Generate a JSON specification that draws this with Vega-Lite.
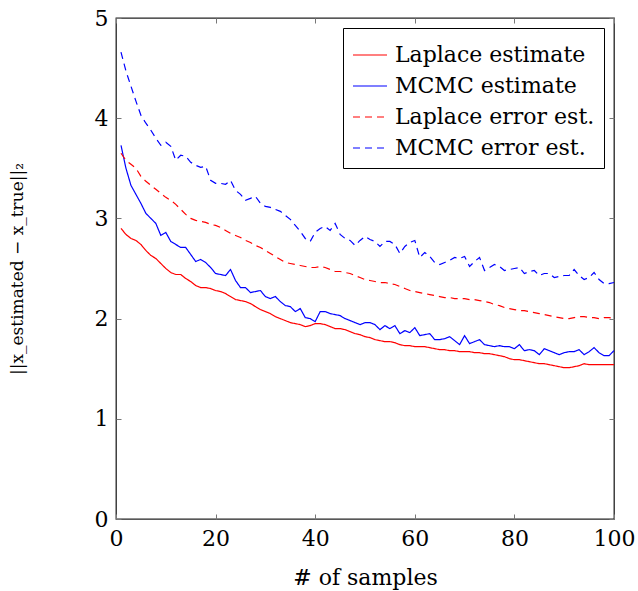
{
  "$schema": "https://vega.github.io/schema/vega-lite/v6.json",
  "autosize": "none",
  "padding": {"left": 116, "top": 18, "right": 24, "bottom": 72},
  "width": 498,
  "height": 501,
  "background": "white",
  "config": {
    "view": {"stroke": "#222", "strokeWidth": 1.3},
    "font": "DejaVu Serif",
    "axis": {"grid": false, "domain": false, "tickColor": "#777", "tickWidth": 1, "tickSize": -5, "labelFlush": false, "labelColor": "black", "labelFont": "DejaVu Serif", "labelFontSize": 22, "titleFont": "DejaVu Serif", "titleFontWeight": "normal", "titleColor": "black"},
    "legend": {"orient": "top-right", "offset": 10, "strokeColor": "black", "fillColor": "white", "padding": 9, "cornerRadius": 0, "symbolType": "stroke", "symbolSize": 1156, "symbolStrokeWidth": 1.2, "labelFont": "DejaVu Serif", "labelFontSize": 22, "labelLimit": 0, "labelColor": "black", "labelOffset": 7, "rowPadding": 2, "title": null}
  },
  "data": {"values": [
    {"n":1,"L":2.90,"M":3.73,"LE":3.65,"ME":4.66},
    {"n":2,"L":2.84,"M":3.50,"LE":3.58,"ME":4.47},
    {"n":3,"L":2.80,"M":3.33,"LE":3.54,"ME":4.32},
    {"n":4,"L":2.78,"M":3.24,"LE":3.50,"ME":4.17},
    {"n":5,"L":2.74,"M":3.15,"LE":3.42,"ME":4.03},
    {"n":6,"L":2.68,"M":3.05,"LE":3.37,"ME":3.95},
    {"n":7,"L":2.63,"M":3.00,"LE":3.33,"ME":3.88},
    {"n":8,"L":2.60,"M":2.95,"LE":3.29,"ME":3.80},
    {"n":9,"L":2.55,"M":2.83,"LE":3.25,"ME":3.73},
    {"n":10,"L":2.50,"M":2.86,"LE":3.21,"ME":3.76},
    {"n":11,"L":2.46,"M":2.77,"LE":3.18,"ME":3.72},
    {"n":12,"L":2.44,"M":2.74,"LE":3.14,"ME":3.58},
    {"n":13,"L":2.44,"M":2.71,"LE":3.09,"ME":3.63},
    {"n":14,"L":2.40,"M":2.71,"LE":3.04,"ME":3.62},
    {"n":15,"L":2.37,"M":2.64,"LE":3.00,"ME":3.56},
    {"n":16,"L":2.33,"M":2.57,"LE":2.98,"ME":3.53},
    {"n":17,"L":2.31,"M":2.59,"LE":2.97,"ME":3.51},
    {"n":18,"L":2.31,"M":2.56,"LE":2.96,"ME":3.52},
    {"n":19,"L":2.30,"M":2.51,"LE":2.94,"ME":3.38},
    {"n":20,"L":2.28,"M":2.45,"LE":2.93,"ME":3.35},
    {"n":21,"L":2.27,"M":2.44,"LE":2.91,"ME":3.35},
    {"n":22,"L":2.25,"M":2.43,"LE":2.88,"ME":3.34},
    {"n":23,"L":2.22,"M":2.49,"LE":2.85,"ME":3.38},
    {"n":24,"L":2.19,"M":2.38,"LE":2.83,"ME":3.28},
    {"n":25,"L":2.18,"M":2.31,"LE":2.81,"ME":3.24},
    {"n":26,"L":2.17,"M":2.31,"LE":2.78,"ME":3.18},
    {"n":27,"L":2.15,"M":2.26,"LE":2.76,"ME":3.20},
    {"n":28,"L":2.12,"M":2.27,"LE":2.73,"ME":3.22},
    {"n":29,"L":2.09,"M":2.28,"LE":2.71,"ME":3.15},
    {"n":30,"L":2.07,"M":2.22,"LE":2.68,"ME":3.12},
    {"n":31,"L":2.05,"M":2.20,"LE":2.65,"ME":3.11},
    {"n":32,"L":2.02,"M":2.22,"LE":2.62,"ME":3.09},
    {"n":33,"L":2.00,"M":2.17,"LE":2.59,"ME":3.07},
    {"n":34,"L":1.98,"M":2.13,"LE":2.56,"ME":3.03},
    {"n":35,"L":1.96,"M":2.12,"LE":2.55,"ME":2.99},
    {"n":36,"L":1.95,"M":2.07,"LE":2.54,"ME":2.93},
    {"n":37,"L":1.94,"M":2.10,"LE":2.53,"ME":2.87},
    {"n":38,"L":1.92,"M":2.01,"LE":2.52,"ME":2.80},
    {"n":39,"L":1.93,"M":2.00,"LE":2.51,"ME":2.77},
    {"n":40,"L":1.95,"M":1.97,"LE":2.51,"ME":2.86},
    {"n":41,"L":1.95,"M":2.07,"LE":2.52,"ME":2.90},
    {"n":42,"L":1.94,"M":2.07,"LE":2.51,"ME":2.92},
    {"n":43,"L":1.92,"M":2.05,"LE":2.49,"ME":2.88},
    {"n":44,"L":1.90,"M":2.04,"LE":2.47,"ME":2.95},
    {"n":45,"L":1.90,"M":2.03,"LE":2.47,"ME":2.84},
    {"n":46,"L":1.89,"M":2.00,"LE":2.46,"ME":2.80},
    {"n":47,"L":1.87,"M":1.98,"LE":2.45,"ME":2.78},
    {"n":48,"L":1.85,"M":1.96,"LE":2.43,"ME":2.73},
    {"n":49,"L":1.84,"M":1.94,"LE":2.41,"ME":2.78},
    {"n":50,"L":1.82,"M":1.96,"LE":2.39,"ME":2.82},
    {"n":51,"L":1.81,"M":1.96,"LE":2.38,"ME":2.79},
    {"n":52,"L":1.79,"M":1.94,"LE":2.37,"ME":2.77},
    {"n":53,"L":1.78,"M":1.89,"LE":2.36,"ME":2.72},
    {"n":54,"L":1.77,"M":1.93,"LE":2.36,"ME":2.77},
    {"n":55,"L":1.77,"M":1.90,"LE":2.35,"ME":2.77},
    {"n":56,"L":1.76,"M":1.93,"LE":2.34,"ME":2.74},
    {"n":57,"L":1.74,"M":1.85,"LE":2.32,"ME":2.65},
    {"n":58,"L":1.73,"M":1.88,"LE":2.30,"ME":2.72},
    {"n":59,"L":1.73,"M":1.86,"LE":2.28,"ME":2.76},
    {"n":60,"L":1.72,"M":1.91,"LE":2.27,"ME":2.78},
    {"n":61,"L":1.72,"M":1.83,"LE":2.26,"ME":2.61},
    {"n":62,"L":1.72,"M":1.84,"LE":2.25,"ME":2.66},
    {"n":63,"L":1.71,"M":1.85,"LE":2.24,"ME":2.62},
    {"n":64,"L":1.70,"M":1.79,"LE":2.23,"ME":2.56},
    {"n":65,"L":1.69,"M":1.79,"LE":2.22,"ME":2.54},
    {"n":66,"L":1.69,"M":1.80,"LE":2.21,"ME":2.56},
    {"n":67,"L":1.68,"M":1.82,"LE":2.21,"ME":2.58},
    {"n":68,"L":1.68,"M":1.78,"LE":2.20,"ME":2.61},
    {"n":69,"L":1.67,"M":1.74,"LE":2.20,"ME":2.60},
    {"n":70,"L":1.67,"M":1.83,"LE":2.20,"ME":2.62},
    {"n":71,"L":1.67,"M":1.75,"LE":2.19,"ME":2.52},
    {"n":72,"L":1.66,"M":1.77,"LE":2.19,"ME":2.57},
    {"n":73,"L":1.66,"M":1.79,"LE":2.18,"ME":2.61},
    {"n":74,"L":1.65,"M":1.74,"LE":2.17,"ME":2.48},
    {"n":75,"L":1.65,"M":1.73,"LE":2.16,"ME":2.51},
    {"n":76,"L":1.64,"M":1.72,"LE":2.14,"ME":2.54},
    {"n":77,"L":1.63,"M":1.73,"LE":2.13,"ME":2.52},
    {"n":78,"L":1.62,"M":1.72,"LE":2.11,"ME":2.48},
    {"n":79,"L":1.60,"M":1.72,"LE":2.10,"ME":2.49},
    {"n":80,"L":1.59,"M":1.70,"LE":2.09,"ME":2.50},
    {"n":81,"L":1.59,"M":1.74,"LE":2.08,"ME":2.51},
    {"n":82,"L":1.58,"M":1.68,"LE":2.08,"ME":2.45},
    {"n":83,"L":1.57,"M":1.69,"LE":2.07,"ME":2.47},
    {"n":84,"L":1.56,"M":1.68,"LE":2.06,"ME":2.48},
    {"n":85,"L":1.55,"M":1.64,"LE":2.05,"ME":2.43},
    {"n":86,"L":1.55,"M":1.70,"LE":2.04,"ME":2.45},
    {"n":87,"L":1.54,"M":1.68,"LE":2.03,"ME":2.45},
    {"n":88,"L":1.53,"M":1.66,"LE":2.02,"ME":2.41},
    {"n":89,"L":1.52,"M":1.64,"LE":2.01,"ME":2.42},
    {"n":90,"L":1.51,"M":1.66,"LE":2.00,"ME":2.43},
    {"n":91,"L":1.51,"M":1.67,"LE":2.00,"ME":2.43},
    {"n":92,"L":1.52,"M":1.67,"LE":2.01,"ME":2.49},
    {"n":93,"L":1.53,"M":1.69,"LE":2.02,"ME":2.43},
    {"n":94,"L":1.55,"M":1.64,"LE":2.02,"ME":2.39},
    {"n":95,"L":1.54,"M":1.67,"LE":2.01,"ME":2.41},
    {"n":96,"L":1.54,"M":1.71,"LE":2.01,"ME":2.46},
    {"n":97,"L":1.54,"M":1.66,"LE":2.00,"ME":2.39},
    {"n":98,"L":1.54,"M":1.63,"LE":2.01,"ME":2.35},
    {"n":99,"L":1.54,"M":1.63,"LE":2.01,"ME":2.35},
    {"n":100,"L":1.54,"M":1.68,"LE":2.00,"ME":2.36}
  ]},
  "transform": [{"fold": ["L", "M", "LE", "ME"], "as": ["series", "value"]}],
  "layer": [
    {
      "mark": {"type": "line", "strokeWidth": 1.2},
      "encoding": {
        "x": {"field": "n", "type": "quantitative", "scale": {"domain": [0, 100], "nice": false},
              "axis": {"values": [0, 20, 40, 60, 80, 100], "title": "# of samples", "titleFontSize": 22, "labelFontSize": 22, "labelFlush": false, "labelPadding": 14, "titlePadding": 18}},
        "y": {"field": "value", "type": "quantitative", "scale": {"domain": [0, 5], "nice": false},
              "axis": {"values": [0, 1, 2, 3, 4, 5], "title": "||x_estimated − x_true||₂", "labelFontSize": 22, "titleFontSize": 17, "labelPadding": 13, "titlePadding": 68}},
        "color": {"field": "series", "type": "nominal",
                  "scale": {"domain": ["L", "M", "LE", "ME"], "range": ["#ff0000", "#0000ff", "#ff0000", "#0000ff"]},
                  "legend": {"labelLimit": 0, "labelExpr": "datum.value == 'L' ? 'Laplace estimate' : datum.value == 'M' ? 'MCMC estimate' : datum.value == 'LE' ? 'Laplace error est.' : 'MCMC error est.'"}},
        "strokeDash": {"field": "series", "type": "nominal",
                  "scale": {"domain": ["L", "M", "LE", "ME"], "range": [[1, 0], [1, 0], [7, 5], [7, 5]]},
                  "legend": {"labelLimit": 0, "labelExpr": "datum.value == 'L' ? 'Laplace estimate' : datum.value == 'M' ? 'MCMC estimate' : datum.value == 'LE' ? 'Laplace error est.' : 'MCMC error est.'"}}
      }
    },
    {
      "mark": {"type": "point", "opacity": 0},
      "encoding": {
        "x": {"field": "n", "type": "quantitative", "axis": {"orient": "top", "values": [0, 20, 40, 60, 80, 100], "labels": false, "title": null}},
        "y": {"field": "value", "type": "quantitative", "axis": {"orient": "right", "values": [0, 1, 2, 3, 4, 5], "labels": false, "title": null}}
      }
    }
  ],
  "resolve": {"axis": {"x": "independent", "y": "independent"}}
}
